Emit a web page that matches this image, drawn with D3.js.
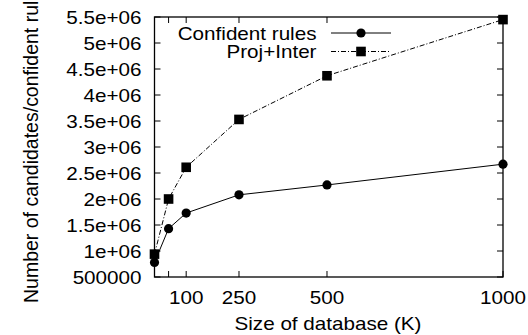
<!DOCTYPE html>
<html>
<head>
<meta charset="utf-8">
<script src="https://cdn.jsdelivr.net/npm/d3@7"></script>
<style>
  body { margin: 0; background: #fff; }
  text { font-family: "Liberation Sans", Arial, sans-serif; font-size: 17.5px; fill: #000; }
</style>
</head>
<body>
<svg id="chart" width="528" height="335"></svg>
<script>
// data
var sizes = [10, 50, 100, 250, 500, 1000];
var confidentRules = [780000, 1430000, 1730000, 2080000, 2270000, 2670000];
var projInter = [940000, 2000000, 2610000, 3530000, 4370000, 5450000];
var xTicks = [10, 50, 100, 250, 500, 1000];
var xTickLabels = ["", "", "100", "250", "500", "1000"];
var yTicks = [500000, 1000000, 1500000, 2000000, 2500000, 3000000, 3500000, 4000000, 4500000, 5000000, 5500000];
var yTickLabels = ["500000", "1e+06", "1.5e+06", "2e+06", "2.5e+06", "3e+06", "3.5e+06", "4e+06", "4.5e+06", "5e+06", "5.5e+06"];

var sx = 1.18; // text in the picture is stretched sideways
// plot box (top/left are reserved window names, so prefixed)
var pLeft = 154.5, pRight = 503, pTop = 17, pBottom = 277;
var tickLen = 6;

var svg = d3.select("#chart");

var x = d3.scaleLinear().domain([10, 1000]).range([pLeft, pRight]);
var y = d3.scaleLinear().domain([500000, 5500000]).range([pBottom, pTop]);

function stretched(sel, tx, ty, anchor) {
    return sel.attr("transform", "translate(" + tx + "," + ty + ") scale(" + sx + ",1)")
        .attr("text-anchor", anchor);
}

// frame
svg.append("rect")
    .attr("x", pLeft).attr("y", pTop)
    .attr("width", pRight - pLeft).attr("height", pBottom - pTop)
    .attr("fill", "none").attr("stroke", "#000").attr("stroke-width", 1.3);

var g = svg.append("g").attr("stroke", "#000").attr("stroke-width", 1);

// y ticks, both sides, pointing in
yTicks.forEach(function (d, i) {
    g.append("line").attr("x1", pLeft).attr("x2", pLeft + tickLen).attr("y1", y(d)).attr("y2", y(d));
    g.append("line").attr("x1", pRight).attr("x2", pRight - tickLen).attr("y1", y(d)).attr("y2", y(d));
    stretched(svg.append("text"), pLeft - 13, y(d) + 7, "end").text(yTickLabels[i]);
});

// x ticks, top and bottom
xTicks.forEach(function (d, i) {
    g.append("line").attr("x1", x(d)).attr("x2", x(d)).attr("y1", pBottom).attr("y2", pBottom - tickLen);
    g.append("line").attr("x1", x(d)).attr("x2", x(d)).attr("y1", pTop).attr("y2", pTop + tickLen);
    if (xTickLabels[i])
        stretched(svg.append("text"), x(d), 304, "middle").text(xTickLabels[i]);
});

// axis titles
stretched(svg.append("text"), 328, 330, "middle").text("Size of database (K)");
svg.append("text")
    .attr("transform", "translate(38,303) scale(1.07,1) rotate(-90)")
    .attr("text-anchor", "start")
    .style("font-size", "19.5px")
    .text("Number of candidates/confident rules");

var line = d3.line()
    .x(function (d) { return x(d[0]); })
    .y(function (d) { return y(d[1]); });

var series = [
    { name: "Confident rules", values: confidentRules, dash: null, shape: "circle" },
    { name: "Proj+Inter", values: projInter, dash: "5,2,1,2", shape: "square" }
];

function marker(sel, shape, cx, cy) {
    if (shape == "circle")
        sel.append("circle").attr("cx", cx).attr("cy", cy).attr("r", 4.6).attr("fill", "#000");
    else
        sel.append("rect").attr("x", cx - 4.8).attr("y", cy - 4.8).attr("width", 9.6).attr("height", 9.6).attr("fill", "#000");
}

series.forEach(function (s, k) {
    var pts = sizes.map(function (d, i) { return [d, s.values[i]]; });
    svg.append("path")
        .attr("d", line(pts))
        .attr("fill", "none")
        .attr("stroke", "#000")
        .attr("stroke-width", 1)
        .attr("stroke-dasharray", s.dash);
    var mg = svg.append("g");
    pts.forEach(function (p) { marker(mg, s.shape, x(p[0]), y(p[1])); });

    // legend
    var ly = 33 + k * 18.5;
    stretched(svg.append("text"), 316.5, ly + 6.5, "end").text(s.name);
    svg.append("line")
        .attr("x1", 331).attr("x2", 391).attr("y1", ly).attr("y2", ly)
        .attr("stroke", "#000").attr("stroke-width", 1)
        .attr("stroke-dasharray", s.dash);
    marker(svg, s.shape, 361, ly);
});
</script>
</body>
</html>
